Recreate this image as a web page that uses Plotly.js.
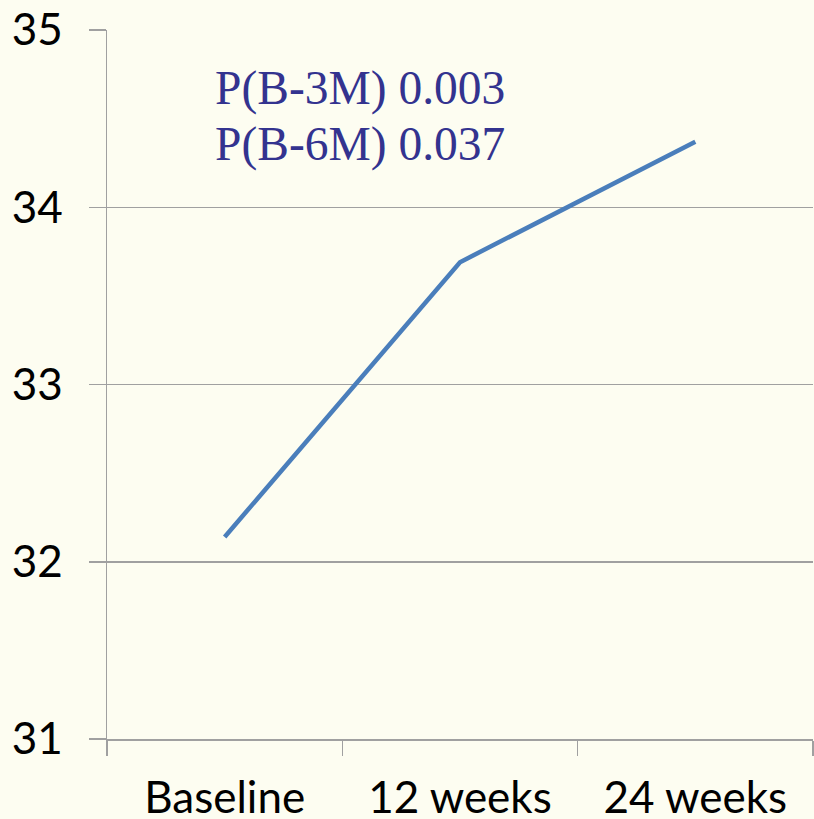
<!DOCTYPE html>
<html>
<head>
<meta charset="utf-8">
<script src="https://cdn.plot.ly/plotly-3.0.1.min.js"></script>
<style>html,body{margin:0;padding:0;background:#FDFDF1;}</style>
</head>
<body>
<div id="chart" style="width:814px;height:819px;"></div>
<script>
const categories = ["Baseline", "12 weeks", "24 weeks"];
const values = [32.14, 33.69, 34.37];
const yTicks = [31, 32, 33, 34, 35];
const notes = ["P(B-3M) 0.003", "P(B-6M) 0.037"];

const trace = {
  x: categories,
  y: values,
  type: "scatter",
  mode: "lines",
  line: {color: "#4A7EBB", width: 4.5},
  hoverinfo: "skip"
};

const layout = {
  width: 814, height: 819,
  margin: {l: 107, r: 1, t: 30, b: 80},
  paper_bgcolor: "#FDFDF1",
  plot_bgcolor: "#FDFDF1",
  showlegend: false,
  font: {family: "Lato, 'Open Sans', sans-serif", color: "#000000"},
  xaxis: {
    type: "category",
    range: [-0.5, 2.5],
    tickson: "boundaries",
    ticks: "outside",
    ticklen: 15,
    tickwidth: 1.5,
    tickcolor: "#A0A0A0",
    showline: true,
    linecolor: "#A0A0A0",
    linewidth: 1.5,
    showgrid: false,
    zeroline: false,
    tickfont: {size: 44, family: "Lato, sans-serif", color: "#000"},
    ticklabelstandoff: 20
  },
  yaxis: {
    range: [31, 35],
    tickvals: yTicks,
    ticktext: yTicks.map(String),
    ticks: "outside",
    ticklen: 17,
    tickwidth: 1.5,
    tickcolor: "#A0A0A0",
    showline: true,
    linecolor: "#A0A0A0",
    linewidth: 1.5,
    showgrid: true,
    gridcolor: "#A0A0A0",
    gridwidth: 1.5,
    zeroline: false,
    tickfont: {size: 44, family: "Lato, sans-serif", color: "#000"},
    ticklabelstandoff: 17
  },
  annotations: [
    {xref: "paper", yref: "paper", x: 0.150, y: 0.9168, xanchor: "left", yanchor: "middle",
     text: notes[0], showarrow: false,
     font: {family: "'Liberation Serif', 'DejaVu Serif', serif", size: 47.5, color: "#33338F"}},
    {xref: "paper", yref: "paper", x: 0.150, y: 0.839, xanchor: "left", yanchor: "middle",
     text: notes[1], showarrow: false,
     font: {family: "'Liberation Serif', 'DejaVu Serif', serif", size: 47.5, color: "#33338F"}}
  ]
};

Plotly.newPlot("chart", [trace], layout, {displayModeBar: false, staticPlot: true});
</script>
</body>
</html>
